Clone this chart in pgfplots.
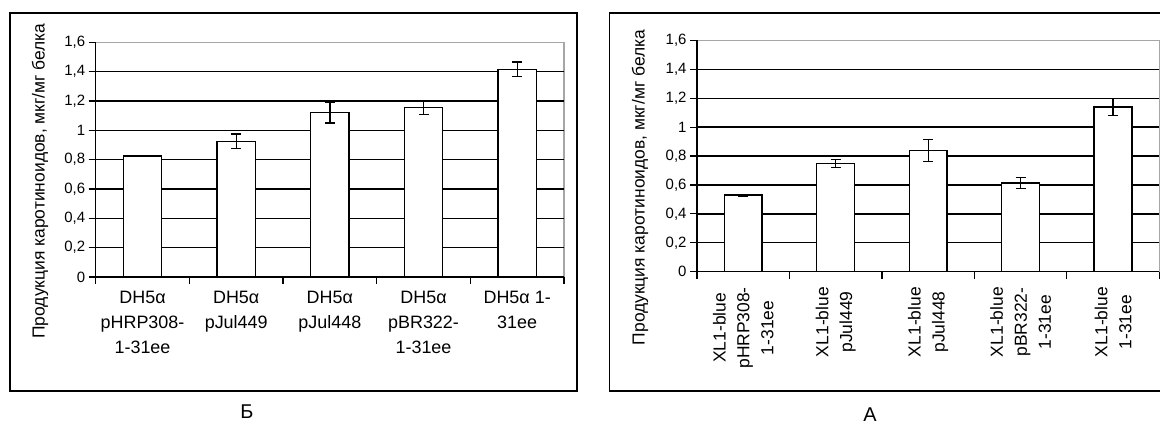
\documentclass[border=0pt]{standalone}
\usepackage{fontspec}
\setmainfont{Liberation Sans}
\usepackage{pgfplots}
\pgfplotsset{compat=1.18}
\pgfplotsset{
  panel/.style={
    scale only axis,
    xmin=-0.5, xmax=4.5, ymin=0, ymax=1.6,
    axis x line*=bottom, axis y line*=left,
    axis line style={black, line width=1.4bp},
    axis background/.style={draw=gray!70, line width=1.2bp},
    tick align=outside,
    major tick length=7bp,
    tick style={black, line width=1.2bp},
    xtick={-0.5,0.5,1.5,2.5,3.5,4.5},
    xticklabels={},
    ytick={0,0.2,0.4,0.6,0.8,1,1.2,1.4,1.6},
    extra y ticks={0.2,0.4,0.6,0.8,1,1.2,1.4},
    extra y tick labels={},
    extra y tick style={grid=major, major grid style={black, line width=1.4bp}},
    yticklabel style={font=\fontsize{15}{17}\selectfont, /pgf/number format/.cd, use comma, fixed, precision=1, assume math mode=true},
    extra x ticks={0,1,2,3,4},
    extra x tick style={major tick length=0pt},
    ylabel style={font=\fontsize{17.5}{19}\selectfont, anchor=center},
    ylabel={Продукция каротиноидов, мкг/мг белка},
  },
  bars/.style={
    ybar, bar width=0.41, fill=white, draw=black, line width=1.4bp,
    error bars/.cd, y dir=both, y explicit,
    error bar style={black, line width=1.3bp},
    error mark options={rotate=90, mark size=5bp, line width=1.3bp, black},
  },
}
\begin{document}
\begin{tikzpicture}[x=1bp,y=1bp]
\useasboundingbox (0,0) rectangle (1160,434);
\clip (0,0) rectangle (1160,434);
\draw[line width=1.5bp] (10,43) rectangle (577,421);
\draw[line width=1.5bp] (609.5,43) rectangle (1250,421);

\begin{axis}[panel,
  at={(95.7bp,157bp)}, anchor=south west,
  width=468.3bp, height=234.7bp,
  extra x tick labels={{DH5α\\pHRP308-\\1-31ee},{DH5α\\pJul449},{DH5α\\pJul448},{DH5α\\pBR322-\\1-31ee},{DH5α 1-\\31ee}},
  extra x tick style={major tick length=0pt, xticklabel style={align=center, anchor=north, yshift=-11bp, font=\fontsize{18}{25}\selectfont}},
  ylabel style={at={(axis description cs:-0.119,0.409)}},
]
\addplot[bars] coordinates {
  (0,0.825) +- (0,0.005)
  (1,0.925) +- (0,0.05)
  (2,1.12) +- (0,0.07)
  (3,1.155) +- (0,0.047)
  (4,1.415) +- (0,0.05)
};
\end{axis}

\begin{axis}[panel,
  at={(697bp,162.3bp)}, anchor=south west,
  width=462.3bp, height=231.2bp,
  extra x tick labels={{XL1-blue\\pHRP308-\\1-31ee},{XL1-blue\\pJul449},{XL1-blue\\pJul448},{XL1-blue\\pBR322-\\1-31ee},{XL1-blue\\1-31ee}},
  extra x tick style={major tick length=0pt, xticklabel style={align=center, rotate=90, anchor=east, xshift=-12bp, font=\fontsize{17.5}{24}\selectfont}},
  ylabel style={at={(axis description cs:-0.1234,0.364)}},
]
\addplot[bars] coordinates {
  (0,0.53) +- (0,0.006)
  (1,0.75) +- (0,0.028)
  (2,0.84) +- (0,0.076)
  (3,0.615) +- (0,0.037)
  (4,1.14) +- (0,0.06)
};
\end{axis}

\node[font=\fontsize{20}{22}\selectfont] at (247,22) {Б};
\node[font=\fontsize{20}{22}\selectfont] at (870,19) {А};
\end{tikzpicture}
\end{document}
